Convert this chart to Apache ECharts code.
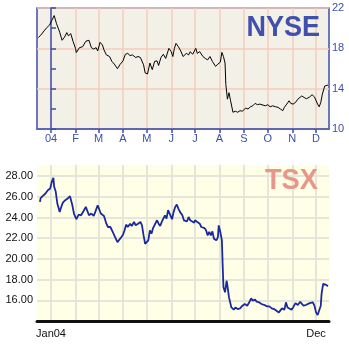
<!DOCTYPE html>
<html><head><meta charset="utf-8">
<script src="https://cdn.jsdelivr.net/npm/echarts@6/dist/echarts.min.js"></script>
<style>html,body{margin:0;padding:0;background:#fff}#c{width:349px;height:344px}</style>
</head><body><div id="c"></div>
<script>
// x values are days counted from 1 Jan 2004
const monthStartDays = [0,31,60,91,121,152,182,213,244,274,305,335];
const nyseMonthLabels = ['04','F','M','A','M','J','J','A','S','O','N','D'];
const tsxLabelDays = [0,335];
const tsxLabels = ['Jan04','Dec'];
const tsxYTicks = [16,18,20,22,24,26,28];

const nyseDays = [
-16,-13,-8,-6,-2,1,4,7,11,14,
17,20,22,25,28,31,32,36,40,44,
48,51,54,57,59,62,65,67,70,74,
77,80,84,87,91,94,97,100,103,107,
110,113,115,117,119,122,125,128,131,134,
136,139,142,145,149,152,154,156,158,161,
164,167,171,174,176,179,183,185,188,192,
195,198,201,204,208,211,214,216,218,220,
221,223,225,227,230,233,236,239,242,246,
249,252,255,258,261,264,268,271,274,277,
280,284,287,290,293,295,298,301,303,306,
309,312,314,317,320,323,327,330,333,335,
337,339,341,343,346,348,350];
const nyseValues = [
19.07,19.3,19.8,20.0,20.3,20.76,21.25,20.44,19.6,18.8,
19.1,19.56,19.24,19.46,18.65,18.0,17.58,18.07,18.16,18.7,
18.8,18.07,17.93,18.07,17.74,18.6,18.33,17.84,17.35,17.19,
16.7,16.44,15.98,16.37,16.76,17.41,17.5,17.28,17.35,17.09,
17.19,17.09,17.0,16.37,15.56,15.46,16.54,15.89,16.7,16.76,
16.3,17.09,17.41,17.0,18.0,17.67,17.19,18.0,18.49,18.16,
17.74,17.19,17.5,17.35,17.67,17.41,18.0,17.5,17.67,17.19,
17.0,16.86,17.19,16.7,16.21,16.44,16.63,17.6,17.19,16.54,
14.42,12.96,13.6,12.8,11.66,11.76,11.66,11.82,11.76,12.08,
11.98,12.2,12.3,12.54,12.41,12.47,12.37,12.3,12.41,12.2,
12.3,12.2,12.15,11.98,11.82,12.15,12.47,12.8,12.54,12.47,
12.63,12.96,13.12,13.28,13.12,13.0,13.18,13.4,13.18,13.28,
12.47,12.2,12.63,13.45,14.26,14.42,14.36];

const tsxDays = [
-14,-13,-11,-7,-4,-1,1,3,4,6,
8,11,13,15,18,21,24,27,29,32,
35,38,41,44,46,48,51,54,56,59,
61,63,65,67,70,72,75,78,81,84,
86,89,91,93,95,97,100,102,105,107,
110,113,115,117,119,121,123,125,127,129,
131,134,136,138,140,142,144,146,148,150,
153,155,157,159,161,163,166,168,170,172,
174,176,178,181,182,185,188,190,192,194,
196,198,200,202,204,206,209,211,212,214,
216,217,218,220,222,223,225,228,231,233,
236,239,242,245,248,251,253,255,258,260,
263,266,270,273,276,279,282,285,288,290,
292,295,297,299,301,304,306,309,312,315,
317,319,322,324,327,331,333,335,337,339,
341,342,344,346,348,350];
const tsxValues = [
25.51,25.9,26.09,26.32,26.64,26.8,27.45,27.84,26.96,26.48,
25.35,24.54,25.03,25.44,25.67,25.83,26.06,25.18,24.38,23.83,
24.28,24.21,24.6,25.02,24.86,24.21,24.38,24.15,24.54,25.18,
25.25,24.38,24.21,24.15,23.4,23.08,23.08,22.6,22.11,21.62,
21.56,22.11,22.34,22.76,23.31,23.08,23.4,23.18,23.57,23.24,
23.4,23.57,23.24,22.27,21.46,21.37,21.79,22.76,22.43,22.98,
23.08,23.73,23.4,23.18,23.57,23.89,24.21,23.89,24.7,24.54,
23.83,24.54,25.02,25.25,24.86,24.54,24.21,23.73,23.89,23.63,
24.05,23.73,23.89,23.5,23.73,23.57,23.4,23.08,22.92,22.98,
22.76,22.27,22.6,22.27,22.66,21.95,21.79,22.11,23.24,22.6,
21.79,19.36,17.26,16.77,17.9,17.42,16.28,15.31,15.09,15.31,
15.15,15.22,15.48,15.64,15.48,15.86,16.19,15.96,16.06,15.86,
15.8,15.64,15.54,15.41,15.41,15.22,15.15,14.99,14.83,14.99,
15.22,15.09,15.8,15.31,15.22,15.09,15.31,15.73,15.54,15.86,
15.96,15.48,15.54,15.64,15.73,15.8,15.48,14.83,14.57,14.67,
15.48,16.61,17.58,17.68,17.49,17.35];

const BLUE = '#3D4EA8';
const PINK = '#F4CBBB';
const GRAYGRID = '#E5E5D8';
const FONT = '"Liberation Sans", Arial, sans-serif';
const xMin = -17.7, xMax = 351.4;

const chart = echarts.init(document.getElementById('c'), null, {renderer: 'canvas'});
chart.setOption({
  animation: false,
  backgroundColor: '#ffffff',
  grid: [
    {left: 37, top: 8, right: 20, height: 121, show: true, backgroundColor: '#F3F1E7', borderColor: BLUE, borderWidth: 1.5},
    {left: 37, top: 165, right: 20, height: 156.5, show: true, backgroundColor: '#FFFFE7', borderWidth: 0}
  ],
  xAxis: [
    {gridIndex: 0, type: 'value', min: xMin, max: xMax,
     axisLine: {show: true, lineStyle: {color: BLUE, width: 1.5}},
     axisTick: {show: true, customValues: monthStartDays, length: 4, lineStyle: {color: BLUE, width: 1.5}},
     axisLabel: {customValues: monthStartDays, margin: 4, color: BLUE, fontSize: 11, fontFamily: FONT,
       formatter: v => nyseMonthLabels[monthStartDays.indexOf(v)]},
     splitLine: {show: true, lineStyle: {color: PINK, width: 1.5}}},
    {gridIndex: 1, type: 'value', min: xMin, max: xMax,
     axisLine: {show: true, lineStyle: {color: '#111111', width: 3}},
     axisTick: {show: false, customValues: monthStartDays},
     axisLabel: {customValues: tsxLabelDays, margin: 7, color: '#111', fontSize: 11, fontFamily: FONT,
       formatter: v => tsxLabels[tsxLabelDays.indexOf(v)]},
     splitLine: {show: true, lineStyle: {color: GRAYGRID, width: 2}}}
  ],
  yAxis: [
    {gridIndex: 0, type: 'value', position: 'right', min: 10, max: 22, interval: 4,
     axisLine: {show: true, lineStyle: {color: BLUE, width: 1.5}},
     axisTick: {show: true, length: 5, lineStyle: {color: BLUE, width: 1.5}},
     minorTick: {show: true, splitNumber: 2, length: 5, lineStyle: {color: BLUE, width: 1.5}},
     axisLabel: {margin: 3, color: BLUE, fontSize: 11, fontFamily: FONT},
     splitLine: {show: true, lineStyle: {color: PINK, width: 1.5}}},
    {gridIndex: 1, type: 'value', min: 13.95, max: 29.07,
     axisLine: {show: false},
     axisTick: {show: false, customValues: tsxYTicks},
     axisLabel: {customValues: tsxYTicks, margin: 4, color: '#111', fontSize: 11, fontFamily: FONT,
       formatter: v => v.toFixed(2)},
     splitLine: {show: true, lineStyle: {color: GRAYGRID, width: 2}}}
  ],
  graphic: [
    {type: 'text', x: 320, y: 27.5, scaleX: 0.9, originX: 0, originY: 0, z: 10,
     style: {text: 'NYSE', fill: '#3F50AD', font: 'bold 30px ' + FONT, textAlign: 'right', textVerticalAlign: 'middle'}},
    {type: 'text', x: 318, y: 181, scaleX: 0.91, originX: 0, originY: 0, z: 10,
     style: {text: 'TSX', fill: '#E8968A', font: 'bold 30px ' + FONT, textAlign: 'right', textVerticalAlign: 'middle'}}
  ],
  series: [
    {type: 'line', xAxisIndex: 0, yAxisIndex: 0, showSymbol: false, symbol: 'none', z: 5,
     lineStyle: {color: '#000000', width: 1},
     data: nyseDays.map((d, i) => [d, nyseValues[i]])},
    {type: 'line', xAxisIndex: 1, yAxisIndex: 1, showSymbol: false, symbol: 'none', z: 5,
     lineStyle: {color: '#1A2A9E', width: 1.8},
     data: tsxDays.map((d, i) => [d, tsxValues[i]])}
  ]
});
</script></body></html>
